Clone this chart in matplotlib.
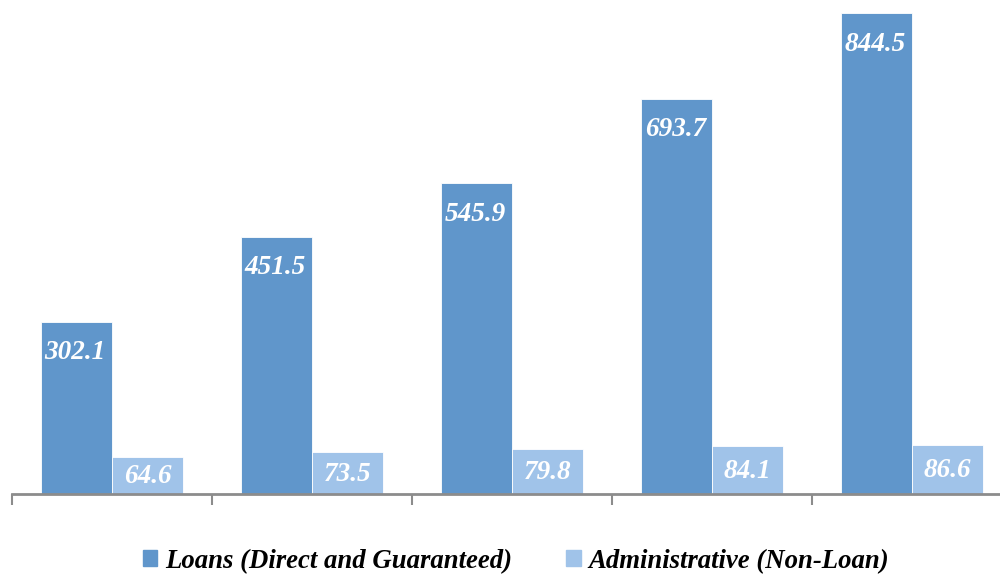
import numpy as np
import matplotlib.pyplot as plt
from matplotlib.patches import Patch

# outlays by year group (values shown on bars)
loans = [302.1, 451.5, 545.9, 693.7, 844.5]
admin = [64.6, 73.5, 79.8, 84.1, 86.6]
series_names = ["Loans (Direct and Guaranteed)", "Administrative (Non-Loan)"]

c_loans = "#6096CB"
c_admin = "#A0C3E9"
axis_gray = "#8C8C8C"

plt.rcParams["font.family"] = ["Liberation Serif", "DejaVu Serif"]

fig = plt.figure(figsize=(10, 5.75), dpi=100)
# axes run slightly past the right edge of the figure
ax = fig.add_axes([0.012, 81 / 575, 1.0, 494 / 575])

x = np.arange(len(loans))
w = 0.357
b1 = ax.bar(x - w / 2, loans, w, color=c_loans, edgecolor="white", linewidth=0.6)
b2 = ax.bar(x + w / 2, admin, w, color=c_admin, edgecolor="white", linewidth=0.6)

lab = dict(color="white", fontsize=19.5, fontweight="bold", fontstyle="italic",
           ha="center", va="center")
for r, v in zip(b1, loans):
    ax.annotate(f"{v:.1f}", (r.get_x() + r.get_width() / 2, v),
                xytext=(-1, -31), textcoords="offset pixels", **lab)
for r, v in zip(b2, admin):
    ax.annotate(f"{v:.1f}", (r.get_x() + r.get_width() / 2, v / 2),
                xytext=(0, -1), textcoords="offset pixels", **lab)

ax.set_xlim(-0.5, len(loans) - 0.5)
ax.set_ylim(0, 867.5)
ax.set_xticks(np.arange(len(loans) + 1) - 0.5)
ax.set_xticklabels([])
ax.tick_params(axis="x", length=8, width=1.5, color=axis_gray, direction="out")
ax.set_yticks([])
for s in ["top", "right", "left"]:
    ax.spines[s].set_visible(False)
ax.spines["bottom"].set_color(axis_gray)
ax.spines["bottom"].set_linewidth(2)

handles = [Patch(color=c_loans), Patch(color=c_admin)]
fig.legend(handles, series_names, loc="center", bbox_to_anchor=(0.516, 0.024),
           ncol=2, frameon=False, handlelength=0.55, handleheight=0.55,
           handletextpad=0.3, columnspacing=2.0,
           prop=dict(family=["Liberation Serif"], size=19.3, weight="bold", style="italic"))

fig.savefig("out.png", dpi=100)
